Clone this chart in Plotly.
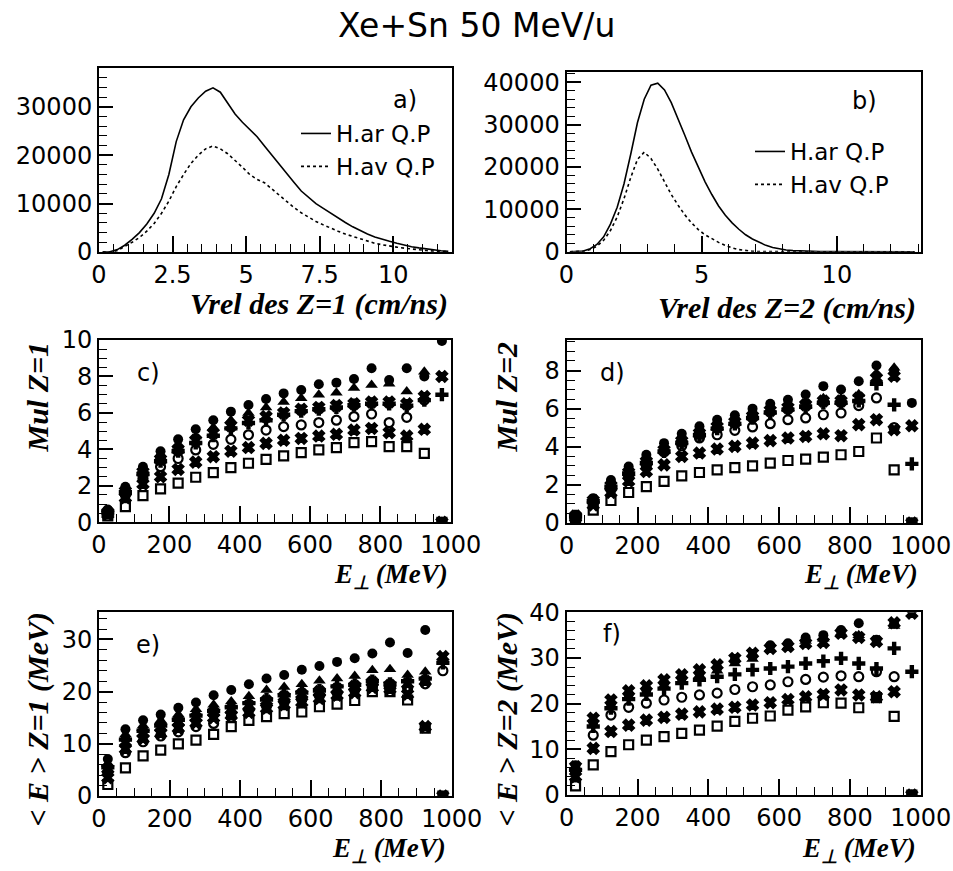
import plotly.graph_objects as go

# ---------------- data ----------------
# panel a : Vrel of Z=1, bin centres (cm/ns) and counts
a_vrel = [round(0.125 + 0.25 * i, 3) for i in range(48)]
a_har = [0, 50, 500, 1400, 2600, 4000, 5800, 8000, 11000, 16000, 22800, 27300,
         30000, 31800, 33200, 33900, 33000, 30800, 28500, 26800, 25200, 23800,
         21900, 20000, 18000, 16300, 14400, 12600, 11200, 10000, 9000, 8000,
         7000, 6100, 5200, 4400, 3700, 3100, 2600, 2200, 1800, 1400, 1100, 850,
         600, 400, 250, 150]
a_hav = [0, 0, 300, 1100, 2000, 3000, 4300, 5900, 8000, 10500, 13500, 16000,
         18300, 20000, 21300, 21900, 21300, 20300, 19000, 17500, 16000, 15000,
         14300, 13000, 11600, 10400, 9200, 8100, 7200, 6300, 5600, 4900, 4300,
         3700, 3200, 2700, 2200, 1800, 1500, 1200, 1000, 800, 600, 450, 300,
         200, 120, 60]

# panel b : Vrel of Z=2, bin centres (cm/ns) and counts
b_vrel = [round(0.125 + 0.25 * i, 3) for i in range(52)]
b_har = [0, 0, 150, 700, 1700, 3500, 6500, 10500, 16000, 23000, 30500, 36000,
         39300, 39800, 38200, 35200, 31500, 27500, 23500, 19800, 16500, 13500,
         10800, 8600, 6800, 5300, 4000, 3000, 2200, 1500, 1000, 650, 400, 250,
         150, 80, 40, 20, 10, 0, 0, 0, 0, 0, 0, 0, 0, 0, 0, 0, 0, 0]
b_hav = [0, 0, 100, 500, 1300, 2700, 5000, 8200, 12500, 17500, 21800, 23500,
         22000, 19500, 16500, 13500, 11000, 8700, 6800, 5200, 4000, 3000, 2200,
         1500, 900, 500, 250, 100, 30, 0, 0, 0, 0, 0, 0, 0, 0, 0, 0, 0, 0, 0, 0,
         0, 0, 0, 0, 0, 0, 0, 0, 0]

# E_perp bin centres (MeV)
e_perp = [25, 75, 125, 175, 225, 275, 325, 375, 425, 475, 525, 575, 625, 675,
          725, 775, 825, 875, 925, 975]

# panel c : Mul Z=1
c_circ = [0.7, 1.95, 3.05, 3.9, 4.55, 5.1, 5.6, 6.07, 6.43, 6.76, 7.07, 7.26, 7.57, 7.66, 7.86, 8.45, 7.8, 8.45, 8.0, 9.95]
c_tri = [0.6, 1.8, 2.9, 3.6, 4.2, 4.7, 5.2, 5.6, 6.0, 6.3, 6.6, 6.8, 7.0, 7.1, 7.37, 7.53, 7.6, 7.17, 8.26, 0]
c_star = [0.55, 1.7, 2.75, 3.45, 4.0, 4.5, 4.9, 5.3, 5.6, 5.8, 6.0, 6.2, 6.3, 6.4, 6.5, 6.6, 6.6, 6.5, 6.9, 8.0]
c_plus = [0.55, 1.65, 2.65, 3.35, 3.9, 4.35, 4.75, 5.15, 5.45, 5.6, 5.9, 6.1, 6.2, 6.3, 6.43, 6.5, 6.5, 6.4, 6.7, 7.0]
c_ocirc = [0.5, 1.5, 2.4, 3.05, 3.5, 3.97, 4.28, 4.55, 4.8, 5.06, 5.25, 5.34, 5.47, 5.6, 5.8, 5.94, 5.47, 5.76, 6.7, 0]
c_x = [0.45, 1.35, 2.1, 2.5, 2.9, 3.3, 3.6, 3.9, 4.1, 4.33, 4.5, 4.6, 4.73, 4.83, 5.06, 5.15, 4.92, 4.73, 5.1, 0]
c_sq = [0.35, 0.86, 1.46, 1.83, 2.15, 2.47, 2.72, 3.0, 3.24, 3.45, 3.64, 3.82, 3.97, 4.1, 4.37, 4.42, 4.15, 4.15, 3.78, 0]

# panel d : Mul Z=2
d_circ = [0.42, 1.3, 2.26, 2.96, 3.58, 4.19, 4.68, 5.07, 5.42, 5.65, 6.0, 6.26, 6.47, 6.74, 7.18, 7.0, 7.44, 8.26, 8.0, 6.3]
d_tri = [0.38, 1.2, 2.05, 2.75, 3.35, 3.95, 4.45, 4.85, 5.15, 5.4, 5.75, 6.0, 6.15, 6.35, 6.55, 6.55, 6.75, 7.85, 8.14, 0]
d_star = [0.36, 1.18, 1.95, 2.65, 3.22, 3.82, 4.3, 4.7, 5.05, 5.3, 5.6, 5.9, 6.05, 6.2, 6.4, 6.4, 6.55, 7.6, 7.7, 0]
d_plus = [0.35, 1.15, 1.9, 2.6, 3.15, 3.75, 4.2, 4.6, 4.95, 5.2, 5.5, 5.8, 5.95, 6.1, 6.3, 6.3, 6.4, 7.3, 6.2, 3.1]
d_ocirc = [0.3, 1.05, 1.75, 2.4, 3.0, 3.75, 4.05, 4.46, 4.63, 4.86, 5.04, 5.21, 5.42, 5.51, 5.68, 5.77, 6.16, 6.56, 5.0, 0]
d_x = [0.28, 0.95, 1.6, 2.2, 2.7, 3.05, 3.49, 3.67, 3.88, 4.02, 4.19, 4.32, 4.46, 4.54, 4.68, 4.58, 5.16, 5.42, 4.9, 5.1]
d_sq = [0.2, 0.68, 1.18, 1.6, 1.91, 2.18, 2.47, 2.65, 2.79, 2.91, 3.0, 3.14, 3.28, 3.35, 3.46, 3.58, 3.75, 4.46, 2.79, 0]

# panel e : <E> Z=1 (MeV)
e_circ = [7.1, 12.8, 14.5, 15.6, 16.9, 17.9, 19.3, 20.3, 21.4, 22.5, 23.2, 24.2, 24.9, 25.7, 26.4, 27.3, 29.4, 27.4, 31.8, 0]
e_tri = [6.2, 11.8, 13.5, 14.5, 15.6, 16.6, 17.5, 18.1, 19.1, 20.3, 20.9, 21.4, 22.1, 22.5, 23.0, 24.1, 24.3, 23.2, 23.8, 0]
e_star = [5.2, 10.3, 12.0, 13.2, 14.2, 15.0, 16.0, 16.5, 17.3, 18.2, 19.0, 19.5, 20.0, 20.5, 21.0, 21.8, 21.2, 21.5, 22.0, 26.7]
e_plus = [5.5, 10.8, 12.5, 13.5, 14.6, 15.4, 16.3, 17.0, 17.8, 18.5, 19.3, 19.8, 20.2, 21.0, 21.3, 22.0, 21.5, 22.0, 22.5, 25.5]
e_ocirc = [4.5, 8.3, 10.4, 11.5, 12.3, 13.3, 13.9, 15.1, 16.5, 17.2, 18.0, 18.5, 19.2, 19.8, 20.3, 21.2, 20.8, 20.6, 21.5, 24.0]
e_x = [3.5, 9.0, 11.0, 12.0, 13.0, 14.0, 15.0, 15.5, 16.0, 16.8, 17.5, 18.0, 18.7, 19.3, 19.8, 20.8, 20.5, 19.5, 13.3, 0]
e_sq = [2.2, 5.4, 7.7, 8.8, 10.0, 10.7, 11.8, 13.3, 14.5, 15.2, 15.8, 16.1, 17.1, 17.6, 18.3, 20.0, 20.0, 18.4, 13.0, 0]

# panel f : <E> Z=2 (MeV)
f_circ = [6.5, 16.0, 20.0, 22.0, 23.0, 24.5, 25.6, 26.7, 27.8, 29.5, 30.5, 32.8, 33.2, 34.5, 35.0, 36.1, 37.6, 34.0, 37.5, 0]
f_tri = [6.0, 15.5, 19.5, 21.5, 22.5, 24.0, 25.0, 26.2, 27.2, 28.8, 29.8, 32.0, 32.5, 33.7, 34.2, 35.5, 35.0, 33.5, 37.0, 0]
f_star = [6.2, 16.8, 20.8, 22.8, 23.9, 25.2, 26.3, 27.4, 28.5, 29.9, 31.0, 32.1, 32.5, 33.2, 33.4, 35.4, 34.5, 33.6, 37.7, 39.8]
f_plus = [5.5, 15.0, 19.0, 21.0, 22.0, 23.3, 24.5, 25.2, 25.9, 26.4, 27.4, 27.7, 28.1, 28.8, 29.3, 29.9, 28.8, 27.7, 32.1, 27.0]
f_ocirc = [5.0, 13.1, 17.5, 19.2, 20.1, 20.8, 21.4, 21.9, 22.3, 23.1, 23.7, 24.1, 24.8, 25.3, 25.8, 26.1, 25.9, 27.0, 25.9, 0]
f_x = [4.0, 10.2, 13.9, 15.3, 16.4, 17.0, 17.7, 18.2, 18.8, 19.2, 19.7, 20.2, 20.9, 21.5, 22.0, 23.0, 21.9, 21.5, 22.6, 0]
f_sq = [2.0, 6.6, 9.5, 11.0, 12.0, 12.8, 13.5, 14.2, 15.1, 16.1, 16.8, 17.3, 18.6, 19.3, 20.2, 20.1, 19.1, 21.3, 17.2, 0]

# ---------------- figure ----------------
W, H = 953, 871


def px(x):
    return x / W


def py(y):
    return 1 - y / H


fig = go.Figure()

SANS = "DejaVu Sans"
SERIF = "Liberation Serif"
TICKFONT = dict(family=SANS, size=24, color="black")

frames = {
    1: (99, 452, 68, 252),
    2: (566.5, 920.7, 71.7, 251.7),
    3: (99, 450.7, 340, 522.3),
    4: (566.7, 920.7, 340, 523),
    5: (99, 451.7, 612.3, 796),
    6: (566.7, 920.7, 612.3, 795),
}


def axname(i, kind):
    return kind + ("" if i == 1 else str(i))


LINE = dict(color="black", width=1.6)
fig.add_trace(go.Scatter(x=a_vrel, y=a_har, mode="lines", line=LINE,
                         name="H.ar Q.P", legend="legend", xaxis="x", yaxis="y"))
fig.add_trace(go.Scatter(x=a_vrel, y=a_hav, mode="lines", line=dict(LINE, dash="dot"),
                         name="H.av Q.P", legend="legend", xaxis="x", yaxis="y"))
fig.add_trace(go.Scatter(x=b_vrel, y=b_har, mode="lines", line=LINE,
                         name="H.ar Q.P", legend="legend2", xaxis="x2", yaxis="y2"))
fig.add_trace(go.Scatter(x=b_vrel, y=b_hav, mode="lines", line=dict(LINE, dash="dot"),
                         name="H.av Q.P", legend="legend2", xaxis="x2", yaxis="y2"))

styles = [
    ("circle", 10, 0),
    ("triangle-up", 11, 0),
    ("x", 10, 1.6),
    ("cross", 11, 0),
    ("circle-open", 9, 2.2),
    ("x", 10, 1.6),
    ("square-open", 9, 2.2),
]
panels = {
    3: [c_circ, c_tri, c_star, c_plus, c_ocirc, c_x, c_sq],
    4: [d_circ, d_tri, d_star, d_plus, d_ocirc, d_x, d_sq],
    5: [e_circ, e_tri, e_star, e_plus, e_ocirc, e_x, e_sq],
    6: [f_circ, f_tri, f_star, f_plus, f_ocirc, f_x, f_sq],
}
for i, series in panels.items():
    for (sym, sz, lw), vals in zip(styles, series):
        fig.add_trace(go.Scatter(
            x=e_perp, y=vals, mode="markers", showlegend=False,
            marker=dict(symbol=sym, size=sz, color="black",
                        line=dict(color="black", width=lw)),
            xaxis=axname(i, "x"), yaxis=axname(i, "y")))

xcfg = {
    1: dict(range=[0, 12], dtick=2.5, minor=0.5),
    2: dict(range=[0, 13.1], dtick=5, minor=1),
    3: dict(range=[0, 1000], dtick=200, minor=50),
    4: dict(range=[0, 1000], dtick=200, minor=50),
    5: dict(range=[0, 1000], dtick=200, minor=50),
    6: dict(range=[0, 1000], dtick=200, minor=50),
}
ycfg = {
    1: dict(range=[0, 38000], dtick=10000, minor=2000),
    2: dict(range=[0, 42500], dtick=10000, minor=2000),
    3: dict(range=[0, 10], dtick=2, minor=0.5),
    4: dict(range=[0, 9.6], dtick=2, minor=0.5),
    5: dict(range=[0, 35.2], dtick=10, minor=2),
    6: dict(range=[0, 40], dtick=10, minor=2),
}
layout = {}
for i, (x0, x1, y0, y1) in frames.items():
    xc, yc = xcfg[i], ycfg[i]
    layout[("xaxis" if i == 1 else f"xaxis{i}")] = dict(
        domain=[px(x0), px(x1)], range=xc["range"], dtick=xc["dtick"], tick0=0,
        anchor=axname(i, "y"), showgrid=False, zeroline=False, automargin=False,
        showline=True, linecolor="black", linewidth=2, mirror=True,
        ticks="inside", ticklen=16, tickwidth=1.5, tickcolor="black",
        minor=dict(dtick=xc["minor"], tick0=0, ticks="inside", ticklen=8,
                   tickwidth=1.2, tickcolor="black", showgrid=False),
        tickfont=TICKFONT, fixedrange=True)
    layout[("yaxis" if i == 1 else f"yaxis{i}")] = dict(
        domain=[py(y1), py(y0)], range=yc["range"], dtick=yc["dtick"], tick0=0,
        anchor=axname(i, "x"), showgrid=False, zeroline=False, automargin=False,
        showline=True, linecolor="black", linewidth=2, mirror=True,
        ticks="inside", ticklen=14, tickwidth=1.5, tickcolor="black",
        minor=dict(dtick=yc["minor"], tick0=0, ticks="inside", ticklen=8,
                   tickwidth=1.2, tickcolor="black", showgrid=False),
        tickfont=TICKFONT, tickformat="d", fixedrange=True)
for k in ["xaxis2", "xaxis3", "xaxis4", "xaxis5", "xaxis6"]:
    layout[k]["tickformat"] = "d"

annotations = []


def ann(text, x, y, xanchor="center", yanchor="middle", font=None, angle=0):
    annotations.append(dict(text=text, x=px(x), y=py(y), xref="paper", yref="paper",
                            xanchor=xanchor, yanchor=yanchor, showarrow=False,
                            textangle=angle, font=font))


TITLEFONT = dict(family=SERIF, size=30, color="black", weight="bold", style="italic")
XTFONT = dict(family=SERIF, size=27, color="black", weight="bold", style="italic")
LABELFONT = dict(family=SANS, size=24, color="black")

ann("Xe+Sn 50 MeV/u", 476, 26, font=dict(family=SANS, size=33, color="black"))
ann("a)", 405, 100, font=LABELFONT)
ann("b)", 864, 101, font=LABELFONT)
ann("c)", 148, 373, font=LABELFONT)
ann("d)", 612, 373, font=LABELFONT)
ann("e)", 148, 645, font=LABELFONT)
ann("f)", 612, 634, font=LABELFONT)

ann("Vrel des Z=1 (cm/ns)", 450, 304, xanchor="right", font=TITLEFONT)
ann("Vrel des Z=2 (cm/ns)", 918, 308, xanchor="right", font=TITLEFONT)
ann("E<sub>\u22a5</sub> (MeV)", 450, 576, xanchor="right", font=XTFONT)
ann("E<sub>\u22a5</sub> (MeV)", 920, 576, xanchor="right", font=XTFONT)
ann("E<sub>\u22a5</sub> (MeV)", 448, 850, xanchor="right", font=XTFONT)
ann("E<sub>\u22a5</sub> (MeV)", 918, 850, xanchor="right", font=XTFONT)

ann("Mul Z=1", 37, 340, yanchor="top", angle=-90, font=TITLEFONT)
ann("Mul Z=2", 506, 340, yanchor="top", angle=-90, font=TITLEFONT)
ann("&lt; E &gt; Z=1 (MeV)", 37, 610, yanchor="top", angle=-90, font=TITLEFONT)
ann("&lt; E &gt; Z=2 (MeV)", 506, 610, yanchor="top", angle=-90, font=TITLEFONT)

LEGFONT = dict(family=SANS, size=23, color="black")
fig.update_layout(
    width=W, height=H, margin=dict(l=0, r=0, t=0, b=0, pad=0, autoexpand=False),
    paper_bgcolor="white", plot_bgcolor="white",
    annotations=annotations,
    legend=dict(x=px(296), y=py(112), xanchor="left", yanchor="top", bgcolor="rgba(0,0,0,0)",
                font=LEGFONT, tracegroupgap=0, itemwidth=30),
    legend2=dict(x=px(750), y=py(130), xanchor="left", yanchor="top", bgcolor="rgba(0,0,0,0)",
                 font=LEGFONT, tracegroupgap=0, itemwidth=30),
    **layout,
)

fig.write_html(
    "out.html",
    config=dict(displayModeBar=False),
    post_script="document.body.style.margin='0px';document.body.style.overflow='hidden';",
)
